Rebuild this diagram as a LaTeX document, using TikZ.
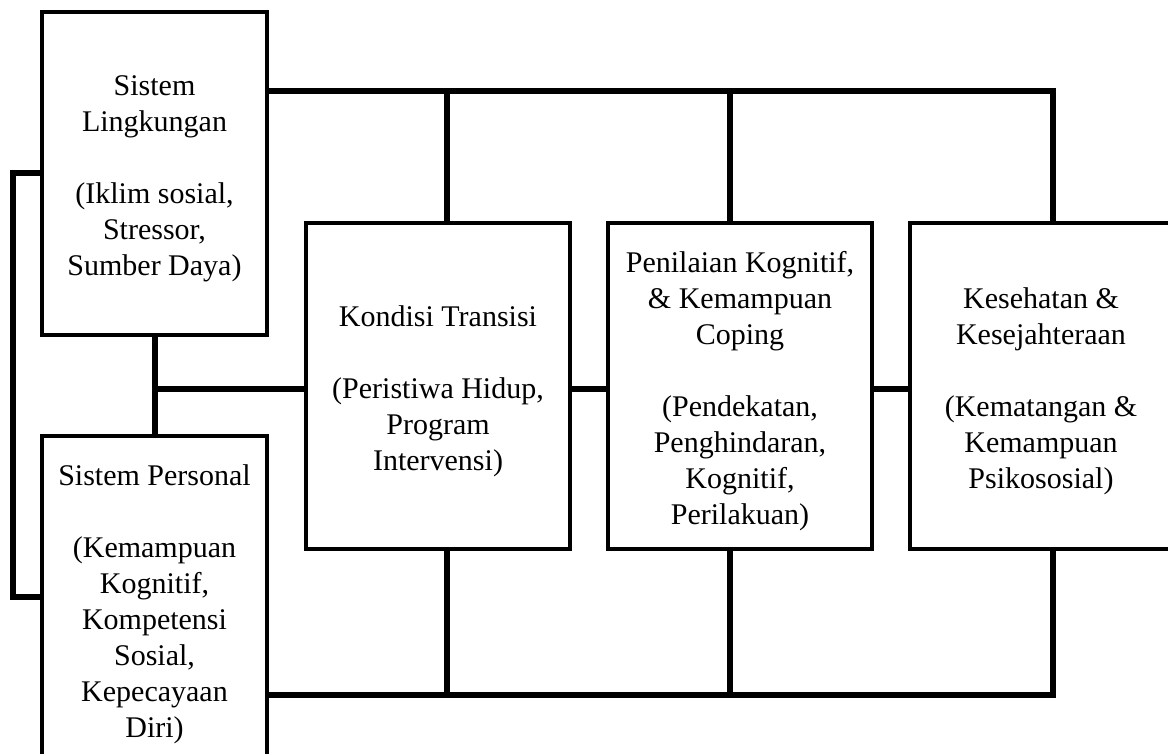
\documentclass[tikz,border=0pt]{standalone}
\usepackage{fontspec}
\setmainfont{Liberation Serif}
\begin{document}
\begin{tikzpicture}[x=1pt,y=-1pt,
  box/.style={draw=black,line width=2.6pt,fill=white,inner sep=0pt},
  txt/.style={align=center,inner sep=0pt,font=\fontsize{30}{36}\selectfont},
  conn/.style={draw=black,line width=6pt,line join=miter}]
\useasboundingbox (0,0) rectangle (1168,753);
\clip (0,0) rectangle (1168,753);
\fill[white] (0,0) rectangle (1168,753);
% boxes
\node[box,minimum width=223pt,minimum height=321pt] (b1) at (154.5,173.5) {};
\node[box,minimum width=223pt,minimum height=326pt] (b2) at (154.5,600) {};
\node[box,minimum width=262pt,minimum height=324pt] (b3) at (438,386) {};
\node[box,minimum width=262pt,minimum height=324pt] (b4) at (740,386) {};
\node[box,minimum width=260pt,minimum height=324pt] (b5) at (1041,386) {};
% junction coordinates
\coordinate (tA) at (447,91);
\coordinate (tB) at (730,91);
\coordinate (tC) at (1053,91);
\coordinate (uA) at (447,695);
\coordinate (uB) at (730,695);
\coordinate (uC) at (1053,695);
\coordinate (lT) at (13,173);
\coordinate (lB) at (13,597);
\coordinate (mid) at (154.5,389);
% top bus
\draw[conn] (b1.east |- tA) -- (tC) -- (tC |- b5.north);
\draw[conn] (tA) -- (tA |- b3.north);
\draw[conn] (tB) -- (tB |- b4.north);
% bottom bus
\draw[conn] (b2.east |- uA) -- (uC) -- (uC |- b5.south);
\draw[conn] (uA) -- (uA |- b3.south);
\draw[conn] (uB) -- (uB |- b4.south);
% left bracket
\draw[conn] (b1.west |- lT) -- (lT) -- (lB) -- (b2.west |- lB);
% middle links
\draw[conn] (b1.south) -- (b2.north);
\draw[conn] (mid) -- (mid -| b3.west);
\draw[conn] (b3.east |- mid) -- (b4.west |- mid);
\draw[conn] (b4.east |- mid) -- (b5.west |- mid);
% redraw box borders on top
\foreach \b in {b1,b2,b3,b4,b5}
  \draw[line width=2.6pt] (\b.north west) rectangle (\b.south east);
% texts
\node[txt] (t1) at ([yshift=-5pt]b1.center)
  {Sistem\\Lingkungan\\[36pt](Iklim sosial,\\Stressor,\\Sumber Daya)};
\node[txt] (t2) at ([yshift=-4pt]b2.center)
  {Sistem Personal\\[36pt](Kemampuan\\Kognitif,\\Kompetensi\\Sosial,\\Kepecayaan\\Diri)};
\node[txt] (t3) at ([yshift=-5pt]b3.center)
  {Kondisi Transisi\\[36pt](Peristiwa Hidup,\\Program\\Intervensi)};
\node[txt] (t4) at ([yshift=-5pt]b4.center)
  {Penilaian Kognitif,\\\& Kemampuan\\Coping\\[36pt](Pendekatan,\\Penghindaran,\\Kognitif,\\Perilakuan)};
\node[txt] (t5) at ([yshift=-5pt]b5.center)
  {Kesehatan \&\\Kesejahteraan\\[36pt](Kematangan \&\\Kemampuan\\Psikososial)};
\end{tikzpicture}
\end{document}
